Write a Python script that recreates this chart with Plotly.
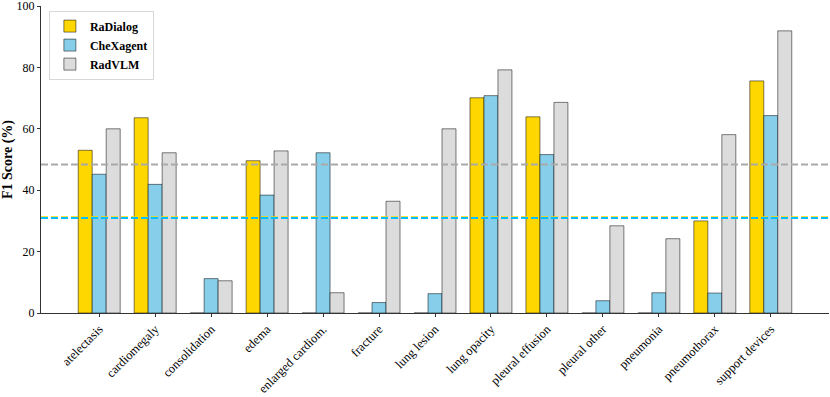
import plotly.graph_objects as go

categories = ["atelectasis", "cardiomegaly", "consolidation", "edema", "enlarged cardiom.",
              "fracture", "lung lesion", "lung opacity", "pleural effusion", "pleural other",
              "pneumonia", "pneumothorax", "support devices"]
radialog = [53.0, 63.6, 0.0, 49.6, 0.0, 0.0, 0.0, 70.1, 63.9, 0.0, 0.0, 30.0, 75.6]
chexagent = [45.2, 41.9, 11.2, 38.4, 52.2, 3.4, 6.3, 70.8, 51.6, 4.0, 6.6, 6.5, 64.3]
radvlm = [60.0, 52.2, 10.5, 52.8, 6.6, 36.4, 60.0, 79.2, 68.6, 28.4, 24.2, 58.1, 91.9]

series = [
    ("RaDialog", radialog, "#FFD700", "#FFD700"),
    ("CheXagent", chexagent, "#87CEEB", "#00BFFF"),
    ("RadVLM", radvlm, "#DCDCDC", "#A9A9A9"),
]

FONT = "Liberation Serif"

fig = go.Figure()
for name, vals, fill, _ in series:
    fig.add_trace(go.Bar(
        x=categories, y=vals, name=name,
        marker=dict(color=fill, line=dict(color="rgba(0,0,0,0.5)", width=1)),
    ))

# mean lines per model
for name, vals, _, line_col in series:
    mean = sum(vals) / len(vals)
    fig.add_shape(type="line", xref="x domain", yref="y", x0=0, x1=1, y0=mean, y1=mean,
                  line=dict(color=line_col, width=2, dash="7px,3px"))

fig.update_layout(
    width=830, height=397,
    margin=dict(l=41, r=1, t=6, b=84, autoexpand=False),
    paper_bgcolor="white", plot_bgcolor="white",
    barmode="group", bargap=0.25, bargroupgap=0,
    font=dict(family=FONT, size=12, color="black"),
    legend=dict(
        x=0.01, y=0.985, xanchor="left", yanchor="top",
        bgcolor="white", bordercolor="#d8d8d8", borderwidth=1,
        font=dict(family=FONT, size=12, color="black", weight="bold"),
        tracegroupgap=0, itemwidth=30,
    ),
    showlegend=True,
)
fig.update_xaxes(
    range=[-1.04, 13.04], showline=True, linecolor="#333333", linewidth=1,
    ticks="outside", ticklen=3, tickcolor="#333333", tickangle=-45, automargin=False,
    tickfont=dict(family=FONT, size=12.5), showgrid=False, zeroline=False,
)
fig.update_yaxes(
    range=[0, 100], tickvals=[0, 20, 40, 60, 80, 100], showline=True, automargin=False,
    linecolor="#333333", linewidth=1, ticks="outside", ticklen=3, tickcolor="#333333",
    tickfont=dict(family=FONT, size=12), showgrid=False, zeroline=False,
    ticklabeloverflow="allow",
    title=dict(text="F1 Score (%)", font=dict(family=FONT, size=14, weight="bold"), standoff=6),
)

fig.write_html("out.html", config={"displayModeBar": False},
               post_script="document.body.style.margin='0px';")
